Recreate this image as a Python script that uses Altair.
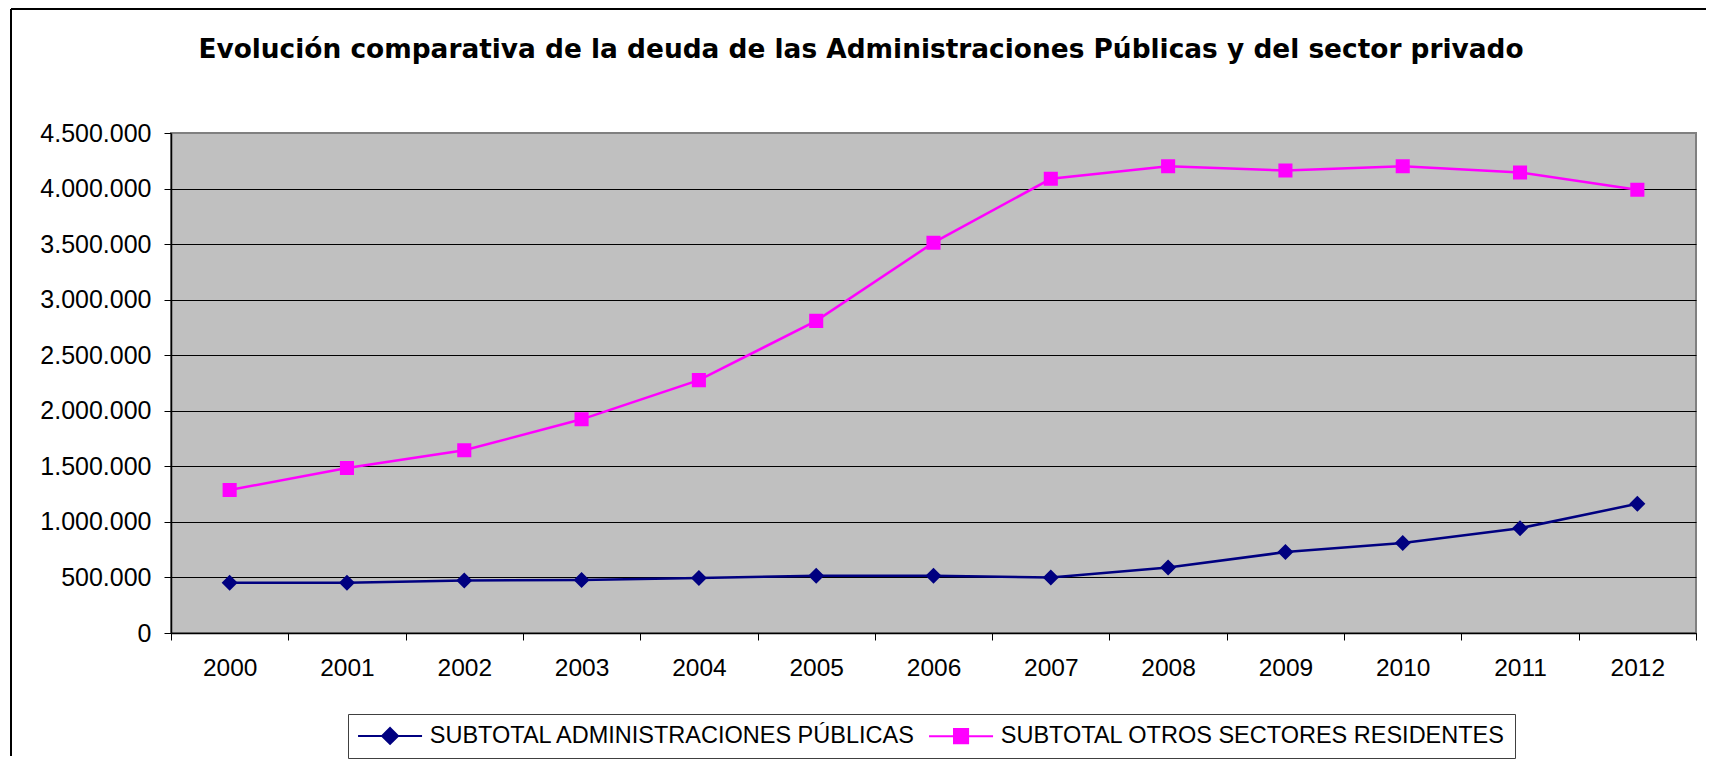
import altair as alt
import pandas as pd

# ---------------- data ----------------
years = list(range(2000, 2013))
admin_publicas = [452000, 452000, 473000, 476000, 494000, 515000, 515000,
                  500000, 590000, 728000, 809000, 943000, 1163000]
otros_sectores = [1287000, 1485000, 1644000, 1923000, 2276000, 2809000, 3513000,
                  4088000, 4201000, 4163000, 4201000, 4145000, 3989000]
series_names = ["SUBTOTAL ADMINISTRACIONES PÚBLICAS", "SUBTOTAL OTROS SECTORES RESIDENTES"]
series_colors = ["#000080", "#FF00FF"]
title_text = "Evolución comparativa de la deuda de las Administraciones Públicas y del sector privado"
y_ticks = [0, 500000, 1000000, 1500000, 2000000, 2500000, 3000000, 3500000, 4000000, 4500000]
x_boundaries = [y - 0.5 for y in years] + [years[-1] + 0.5]
x_axis_values = years + x_boundaries

rows = []
for name, vals in zip(series_names, [admin_publicas, otros_sectores]):
    for yr, v in zip(years, vals):
        rows.append({"year": yr, "value": v, "series": name})
df = pd.DataFrame(rows)
one = pd.DataFrame({"k": [0]})

# ---------------- layout ----------------
W, H = 1525, 500
FONT = "Liberation Sans"

diamond_path = "M-4,0H4M0,-1L1,0L0,1L-1,0Z"
square_path = "M-4,0H4M-0.88,-0.88H0.88V0.88H-0.88Z"

color_scale = alt.Scale(domain=series_names, range=series_colors)
shape_scale = alt.Scale(domain=series_names, range=[diamond_path, square_path])

legend_def = alt.Legend(
    orient="none", legendX=177, legendY=581,
    direction="horizontal", title=None,
    labelFont=FONT, labelFontSize=23.5, labelColor="black", labelLimit=1000,
    symbolSize=256, symbolStrokeWidth=2, symbolOffset=20.3, labelOffset=28,
    symbolOpacity=1,
    columnPadding=8, padding=10,
    strokeColor="#404040", fillColor="white",
)

x_enc = alt.X(
    "year:Q",
    scale=alt.Scale(domain=[years[0] - 0.5, years[-1] + 0.5], nice=False, zero=False),
    axis=alt.Axis(
        values=x_axis_values,
        labelExpr="datum.value % 1 === 0 ? format(datum.value, 'd') : ''",
        tickOpacity={"condition": {"test": "datum.value % 1 === 0", "value": 0}, "value": 1},
        tickSize=7, tickColor="black", tickWidth=1,
        domainColor="black", domainWidth=1.5,
        grid=False, title=None,
        labelFont=FONT, labelFontSize=24.5, labelColor="black",
        labelPadding=16, labelOverlap=False, labelFlush=False,
    ),
)
y_enc = alt.Y(
    "value:Q",
    scale=alt.Scale(domain=[0, 4500000], nice=False),
    axis=alt.Axis(
        values=y_ticks,
        labelExpr="replace(replace(format(datum.value, ','), ',', '.'), ',', '.')",
        grid=True,
        gridColor={"condition": {"test": "datum.value >= 4500000", "value": "#808080"}, "value": "black"},
        gridWidth=1,
        tickSize=7, tickColor="black", tickWidth=1,
        domainColor="black", domainWidth=1.5,
        title=None,
        labelFont=FONT, labelFontSize=25, labelColor="black", labelPadding=13,
    ),
)

base = alt.Chart(df).encode(
    x=x_enc,
    y=y_enc,
    color=alt.Color("series:N", scale=color_scale, legend=legend_def),
)

lines = base.mark_line(strokeWidth=2.5)

points = base.mark_point(filled=True, opacity=1, size=256).encode(
    shape=alt.Shape("series:N", scale=shape_scale, legend=legend_def)
)

legend_layer = base.transform_filter("false").mark_point(
    filled=True, opacity=1, size=256, strokeWidth=2
).encode(
    shape=alt.Shape("series:N", scale=shape_scale, legend=legend_def),
    stroke=alt.Stroke("series:N", scale=color_scale, legend=legend_def),
)

border_top = alt.Chart(one).mark_rule(color="black", strokeWidth=2).encode(
    x=alt.value(-160), x2=alt.value(W + 10), y=alt.value(-124)
)
border_left = alt.Chart(one).mark_rule(color="black", strokeWidth=2).encode(
    x=alt.value(-160), y=alt.value(-124), y2=alt.value(H + 123)
)
title_mark = alt.Chart(one).mark_text(
    font="DejaVu Sans", fontSize=26.4, fontWeight="bold", color="black",
    align="center", baseline="alphabetic",
).encode(x=alt.value(690), y=alt.value(-75), text=alt.value(title_text))

chart = alt.layer(border_top, border_left, lines, points, legend_layer, title_mark).properties(
    width=W, height=H,
    padding={"left": 2, "top": 0, "right": 0, "bottom": 0},
    background="white",
).configure_view(fill="#C0C0C0", stroke="#808080", strokeWidth=2)

chart.save("out.html", embed_options={"renderer": "svg", "actions": False})
